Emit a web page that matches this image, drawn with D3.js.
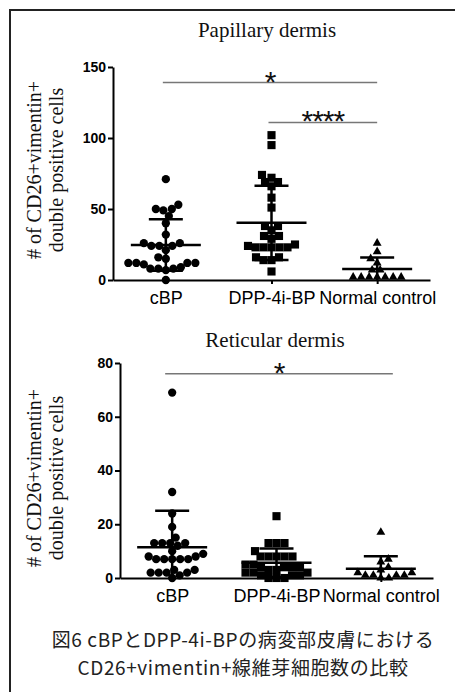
<!DOCTYPE html>
<html>
<head>
<meta charset="utf-8">
<script src="https://cdnjs.cloudflare.com/ajax/libs/d3/7.8.5/d3.min.js"></script>
<style>
  body { margin: 0; background: #fff; }
  svg { display: block; }
  .axis path, .axis line { stroke: #000; stroke-width: 2px; }
  .title, .ylabel { font-family: "Liberation Serif", "Times New Roman", serif; fill: #111; }
  .sig line { stroke: #777; stroke-width: 1.5px; }
  .sig text { font-family: "Liberation Sans", Arial, sans-serif; font-size: 30px; fill: #111; }
  .caption { font-family: "Noto Sans CJK JP", sans-serif; font-size: 19px; letter-spacing: 0.6px; fill: #222; }
</style>
</head>
<body>
<svg id="chart" width="455" height="692"></svg>
<script>
const groups = ['cBP', 'DPP-4i-BP', 'Normal control'];

// Papillary dermis
const papCBP = [71, 53, 50, 49, 50, 45, 40, 32, 26, 24, 24, 24, 26, 21, 16, 15, 12, 12, 11, 12, 12, 8, 8, 7, 8, 9, 0];
const papDPP = [102, 95, 74, 69, 66, 69, 72, 58, 51, 38, 38, 31, 29, 31, 35, 25, 23, 23, 24, 23, 23, 23, 14, 16, 16, 14, 6];
const papNormal = [26, 20, 15, 12, 7, 7, 2, 2, 2, 2, 2, 2, 2];
const papTicks = [0, 50, 100, 150];
const papSig = [['cBP', 'Normal control', '*', 139], ['DPP-4i-BP', 'Normal control', '****', 111]];

// Reticular dermis
const retCBP = [69, 32, 24, 19, 15, 13, 13, 12, 13, 13, 10, 9, 7, 7, 7, 7, 7, 8, 8, 3, 2, 2, 1, 2, 2, 3, 0];
const retDPP = [23, 13, 13, 13, 10, 8, 8, 8, 8, 8, 5, 5, 4, 4, 4, 4, 3, 3, 2, 2, 2, 1, 1, 1, 0, 0, 0];
const retNormal = [17, 7, 6, 4, 3, 2, 1, 1, 0, 0, 1, 1, 2];
const retTicks = [0, 20, 40, 60, 80];
const retSig = [['cBP', 'Normal control', '*', 76]];

const yLabel = ['# of CD26+vimentin+', 'double positive cells'];
const caption = ['図6 cBPとDPP-4i-BPの病変部皮膚における', 'CD26+vimentin+線維芽細胞数の比較'];

const symbols = [d3.symbolCircle, d3.symbolSquare, d3.symbolTriangle];
const symbolSizes = [54, 66, 34];

const svg = d3.select('#chart');

svg.append('rect')
  .attr('x', 10).attr('y', 10)
  .attr('width', 470).attr('height', 720)
  .attr('fill', 'none').attr('stroke', '#222').attr('stroke-width', 2);

// simple beeswarm: push each point sideways until it clears the ones already placed
function swarm(values, y, d) {
  const placed = [];
  const offsets = new Array(values.length);
  const order = values.map((v, i) => i).sort((a, b) => values[a] - values[b]);
  order.forEach((i, j) => {
    const py = y(values[i]);
    const side = j % 2 ? 1 : -1;
    let dx = 0;
    for (let k = 0; k < 400; k++) {
      const cand = k === 0 ? 0 : side * (k % 2 ? 1 : -1) * Math.ceil(k / 2) * 0.5;
      const hit = placed.some(p => Math.hypot(p[0] - cand, p[1] - py) < d);
      if (!hit) { dx = cand; break; }
    }
    placed.push([dx, py]);
    offsets[i] = dx;
  });
  return offsets;
}

function panel(opt) {
  const x = d3.scalePoint().domain(groups).range([opt.left, opt.right]).padding(0.5);
  const y = d3.scaleLinear().domain([0, d3.max(opt.ticks)]).range([opt.bottom, opt.top]);
  const g = svg.append('g');

  g.append('text').attr('class', 'title')
    .attr('x', opt.titleX).attr('y', opt.titleY)
    .attr('text-anchor', 'middle').attr('font-size', 21)
    .text(opt.title);

  yLabel.forEach((t, i) => {
    g.append('text').attr('class', 'ylabel')
      .attr('transform', `translate(${41 + i * 22},${opt.labelY}) rotate(-90)`)
      .attr('text-anchor', 'middle').attr('font-size', 20)
      .text(t);
  });

  opt.series.forEach((vals, gi) => {
    const cx = x(groups[gi]);
    const offs = swarm(vals, y, 7.6);
    g.append('g').selectAll('path').data(vals).join('path')
      .attr('d', d3.symbol(symbols[gi], symbolSizes[gi]))
      .attr('transform', (v, i) => `translate(${cx + offs[i]},${y(v)})`)
      .attr('fill', '#000');
  });

  const ya = g.append('g').attr('class', 'axis y')
    .attr('transform', `translate(${opt.left},0)`)
    .call(d3.axisLeft(y).tickValues(opt.ticks).tickSize(5).tickSizeOuter(0).tickPadding(2));
  ya.selectAll('text')
    .attr('font-family', '"Liberation Sans", Arial, sans-serif')
    .attr('font-weight', 'bold').attr('font-size', 14).attr('fill', '#000');

  const xa = g.append('g').attr('class', 'axis x')
    .attr('transform', `translate(0,${opt.bottom})`)
    .call(d3.axisBottom(x).tickSize(4).tickSizeOuter(0).tickPadding(7));
  xa.selectAll('text')
    .attr('font-family', '"Liberation Sans", Arial, sans-serif')
    .attr('font-size', 18).attr('fill', '#000');

  // mean ± SD
  opt.series.forEach((vals, gi) => {
    const cx = x(groups[gi]);
    const m = d3.mean(vals), sd = d3.deviation(vals);
    const lo = Math.max(0, m - sd), hi = m + sd;
    const eb = g.append('g').attr('stroke', '#000').attr('stroke-width', 2.5);
    eb.append('line').attr('x1', cx - 35).attr('x2', cx + 35).attr('y1', y(m)).attr('y2', y(m));
    eb.append('line').attr('x1', cx).attr('x2', cx).attr('y1', y(lo)).attr('y2', y(hi));
    eb.append('line').attr('x1', cx - 17).attr('x2', cx + 17).attr('y1', y(hi)).attr('y2', y(hi));
    if (m - sd > 0)
      eb.append('line').attr('x1', cx - 17).attr('x2', cx + 17).attr('y1', y(lo)).attr('y2', y(lo));
  });

  opt.sig.forEach(([a, b, label, v]) => {
    const s = g.append('g').attr('class', 'sig');
    const x1 = x(a) - opt.sigPad[0], x2 = x(b) + opt.sigPad[1];
    s.append('line').attr('x1', x1).attr('x2', x2).attr('y1', y(v)).attr('y2', y(v));
    s.append('text').attr('x', (x1 + x2) / 2).attr('y', y(v) + 9)
      .attr('text-anchor', 'middle').attr('letter-spacing', -1).text(label);
  });
}

panel({
  title: 'Papillary dermis', titleX: 267, titleY: 37,
  series: [papCBP, papDPP, papNormal], ticks: papTicks, sig: papSig, sigPad: [3, 0],
  left: 113, right: 430, top: 67, bottom: 280, labelY: 170
});

panel({
  title: 'Reticular dermis', titleX: 275, titleY: 347,
  series: [retCBP, retDPP, retNormal], ticks: retTicks, sig: retSig, sigPad: [7, 12],
  left: 120, right: 433, top: 363, bottom: 578, labelY: 478
});

caption.forEach((t, i) => {
  svg.append('text').attr('class', 'caption')
    .attr('x', 243).attr('y', 647 + i * 28)
    .attr('text-anchor', 'middle')
    .text(t);
});
</script>
</body>
</html>
